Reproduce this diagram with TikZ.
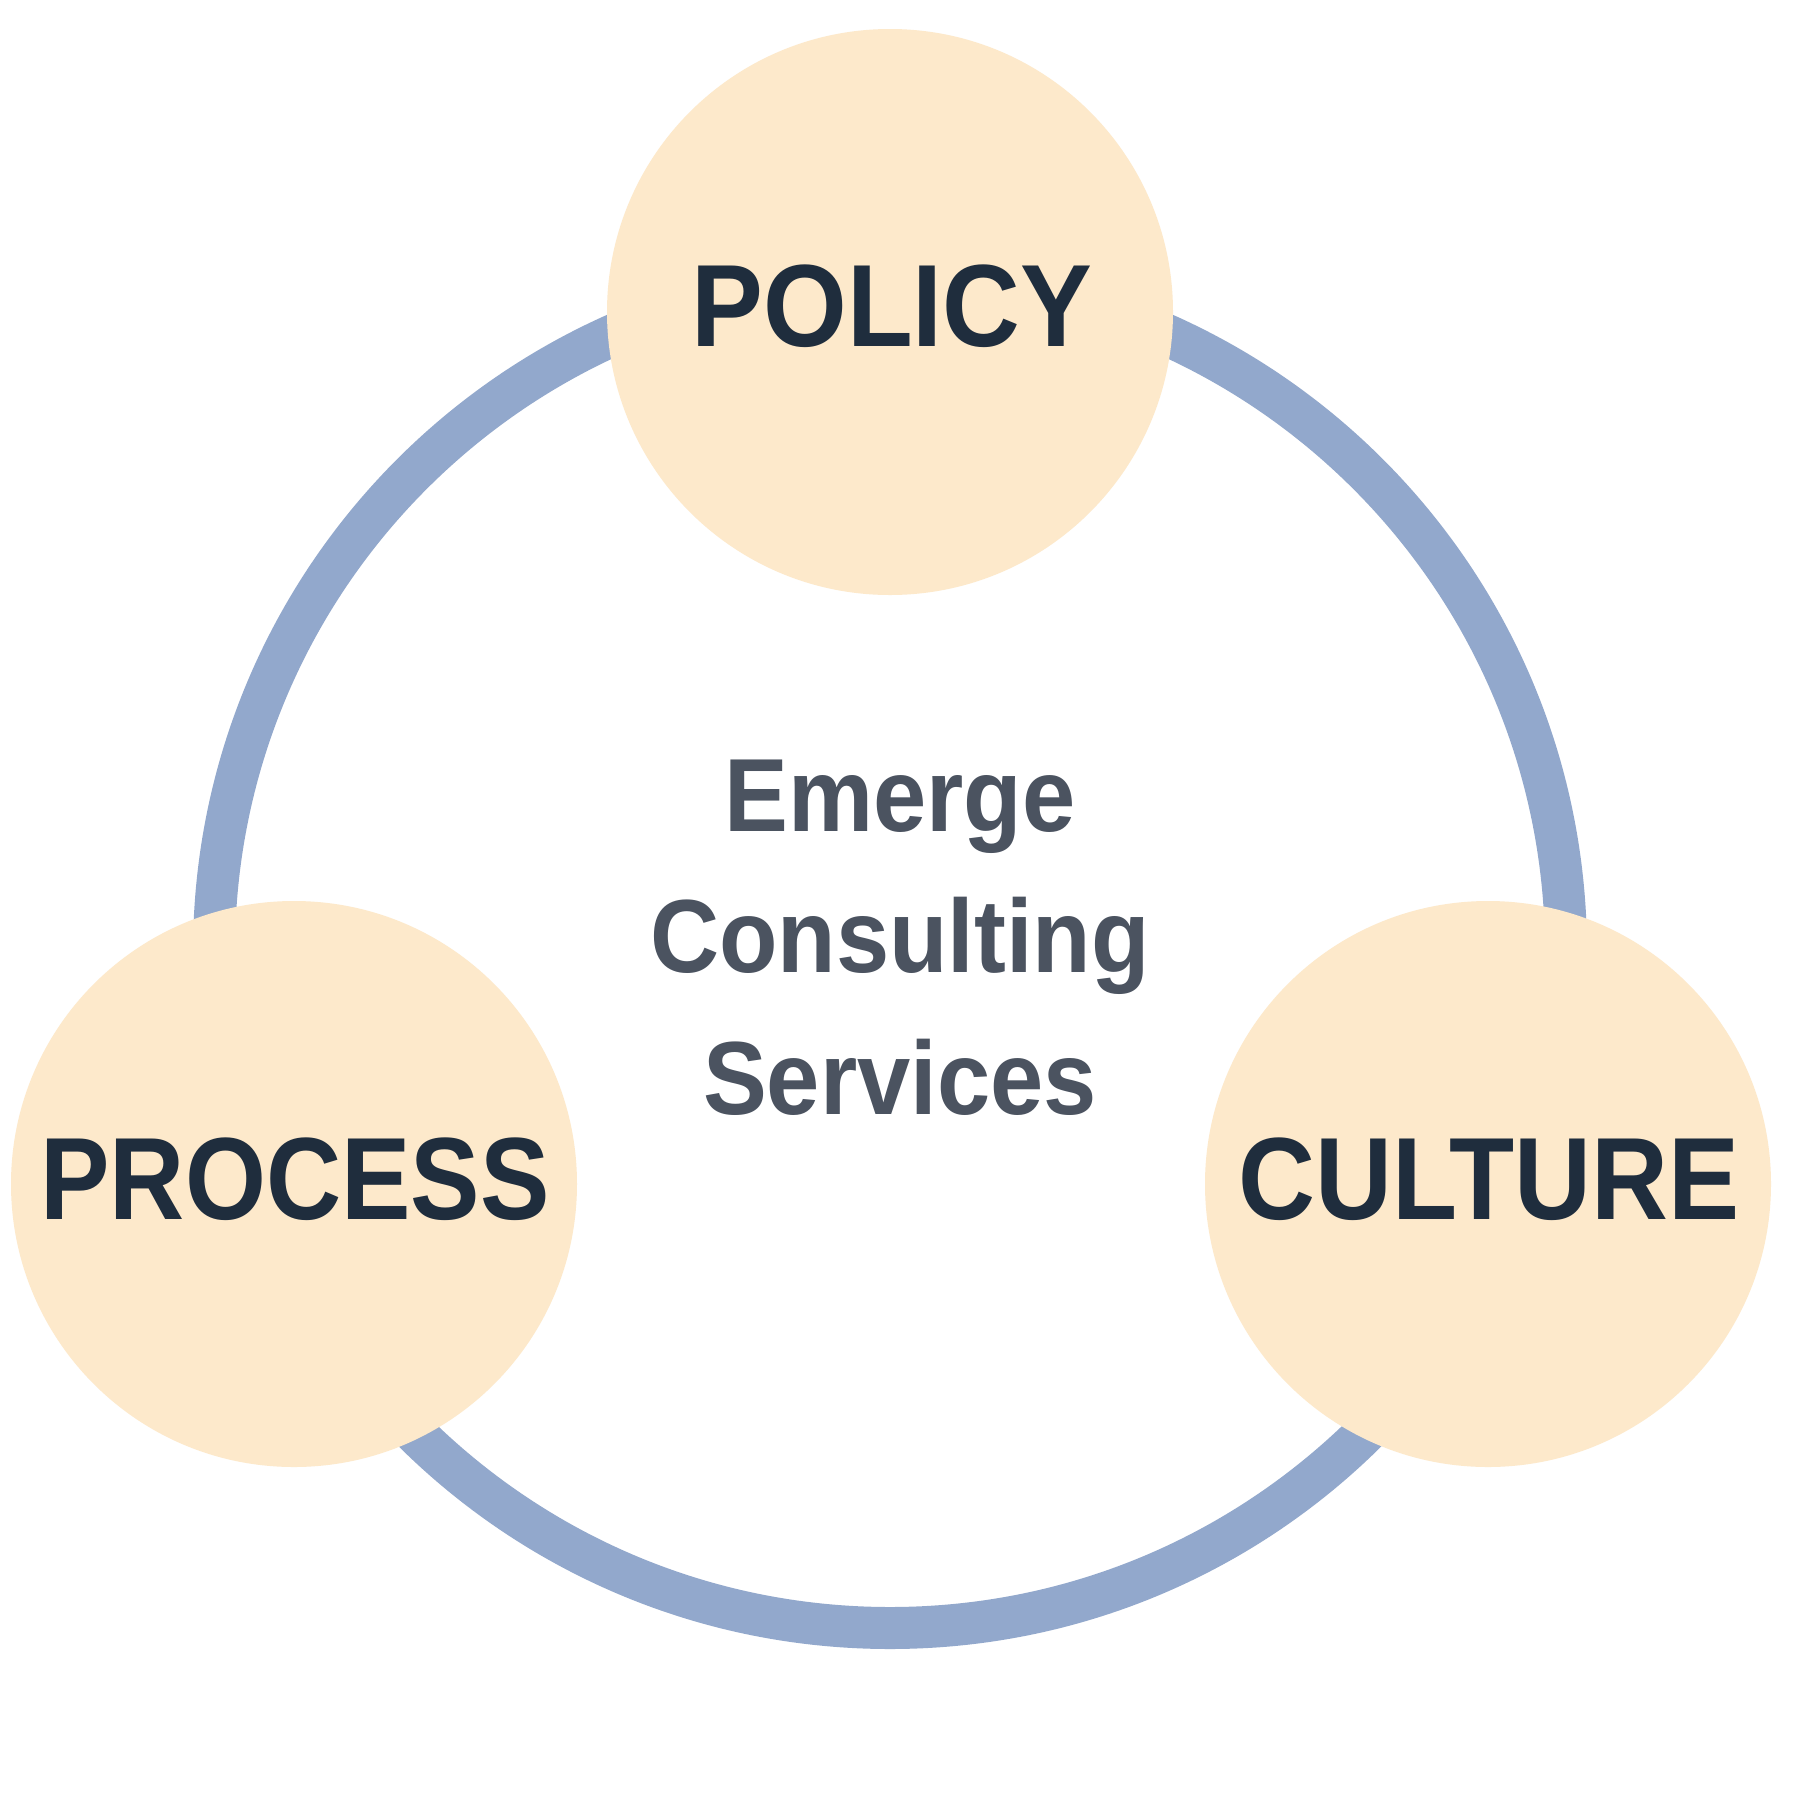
\documentclass[tikz,border=0pt]{standalone}
\usepackage{fontspec}
\newfontfamily\labfont[FakeStretch=0.92]{Liberation Sans}
\definecolor{ringc}{HTML}{92A8CC}
\definecolor{circc}{HTML}{FDE9CB}
\definecolor{navy}{HTML}{1F2D3D}
\definecolor{greyt}{HTML}{4B5360}
\tikzset{
  circ/.style={circle, fill=circc, draw=none, minimum size=566pt, inner sep=0pt},
  lab/.style={font=\labfont\fontsize{117}{117}\selectfont\bfseries, text=navy, inner sep=0pt, anchor=base},
  ctext/.style={font=\labfont\fontsize{104}{104}\selectfont\bfseries, text=greyt, inner sep=0pt, anchor=base},
  ringline/.style={draw=ringc, line width=42pt}
}
\begin{document}
\begin{tikzpicture}[x=1pt,y=-1pt]
\useasboundingbox (0,0) rectangle (1800,1800);
\fill[white] (0,0) rectangle (1800,1800);
\coordinate (rc) at (890,952);
\draw[ringline] (rc) circle[radius=676pt];
\node[circ] (policy) at (890,312) {};
\node[circ] (process) at (294,1184) {};
\node[circ] (culture) at (1488,1184) {};
\node[lab] (policyt) at (892,346) {POLICY};
\node[lab, xscale=0.967, transform shape] (processt) at (295,1219) {PROCESS};
\node[lab, xscale=0.99, transform shape] (culturet) at (1489,1219) {CULTURE};
\node[ctext] (c1) at (900,831) {Emerge};
\node[ctext] (c2) at (900,972) {Consulting};
\node[ctext] (c3) at (900,1114) {Services};
\end{tikzpicture}
\end{document}
